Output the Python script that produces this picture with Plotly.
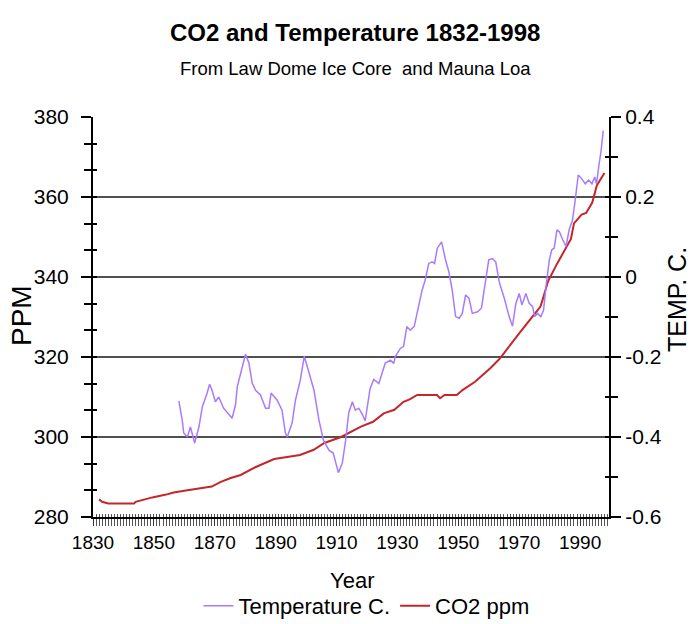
import plotly.graph_objects as go

# ---------------- data ----------------
co2_years = [1832, 1833, 1835, 1843.5, 1844, 1847, 1849.5, 1854, 1856.5, 1861,
             1865.5, 1869, 1872, 1875, 1878.5, 1883.5, 1889.5, 1898, 1902.5, 1906,
             1911.5, 1918, 1922, 1925.5, 1929, 1932, 1934, 1936.5, 1943, 1944,
             1945.5, 1949.5, 1951.5, 1954, 1955.5, 1958, 1960.5, 1963.5, 1966.5, 1970,
             1973.5, 1977, 1978, 1979.5, 1982.5, 1985.5, 1987, 1988, 1990.5, 1992,
             1994, 1995.5, 1998]
co2_ppm = [284.4, 283.8, 283.4, 283.4, 283.8, 284.4, 284.9, 285.6, 286.1, 286.7,
           287.2, 287.6, 288.8, 289.7, 290.5, 292.5, 294.5, 295.5, 296.8, 298.5,
           300.0, 302.6, 303.8, 305.9, 306.8, 308.8, 309.4, 310.5, 310.5, 309.7,
           310.5, 310.5, 311.8, 313.0, 313.8, 315.5, 317.2, 319.5, 322.6, 325.9,
           329.3, 332.6, 335.1, 339.0, 343.4, 347.6, 349.5, 353.4, 355.6, 356.0,
           358.6, 362.9, 366.0]

temp_years = [1858.2, 1859.3, 1859.8, 1861.0, 1862.0, 1862.6, 1863.4, 1864.8, 1865.9, 1867.5,
              1868.3, 1869.1, 1870.2, 1871.3, 1872.9, 1875.7, 1876.8, 1877.4, 1878.5, 1880.1,
              1881.2, 1882.3, 1883.4, 1885.0, 1886.7, 1887.8, 1888.5, 1890.5, 1892.1, 1893.2,
              1893.8, 1895.4, 1896.5, 1898.1, 1899.4, 1900.9, 1902.6, 1904.2, 1905.7, 1907.5,
              1908.9, 1910.6, 1911.9, 1913.0, 1914.0, 1915.2, 1916.2, 1917.3, 1918.6, 1919.4,
              1921.0, 1922.2, 1923.9, 1926.0, 1927.7, 1928.8, 1929.3, 1931.0, 1932.0, 1933.1,
              1934.2, 1935.5, 1936.9, 1938.1, 1939.1, 1940.3, 1941.4, 1942.2, 1943.1, 1944.5,
              1945.8, 1946.9, 1948.0, 1949.1, 1950.3, 1951.3, 1952.4, 1953.5, 1954.6, 1956.3,
              1957.6, 1959.0, 1960.0, 1961.2, 1962.3, 1963.4, 1965.1, 1966.7, 1967.8, 1968.9,
              1970.0, 1970.9, 1972.2, 1973.3, 1974.4, 1975.1, 1976.0, 1977.1, 1978.0, 1978.8,
              1979.9, 1980.7, 1981.5, 1982.4, 1983.2, 1984.3, 1985.4, 1986.4, 1987.5, 1988.3,
              1989.4, 1990.5, 1991.7, 1992.8, 1993.9, 1994.8, 1995.4, 1996.2, 1996.9, 1997.6]
temp_c = [-0.310, -0.357, -0.390, -0.400, -0.375, -0.395, -0.415, -0.375, -0.325, -0.290,
          -0.268, -0.283, -0.312, -0.300, -0.328, -0.353, -0.320, -0.274, -0.240, -0.193,
          -0.215, -0.265, -0.283, -0.295, -0.328, -0.328, -0.290, -0.308, -0.333, -0.390,
          -0.400, -0.365, -0.308, -0.258, -0.198, -0.240, -0.283, -0.357, -0.408, -0.433,
          -0.440, -0.489, -0.465, -0.408, -0.340, -0.312, -0.333, -0.328, -0.345, -0.360,
          -0.280, -0.256, -0.266, -0.215, -0.208, -0.216, -0.199, -0.178, -0.174, -0.124,
          -0.133, -0.124, -0.074, -0.033, -0.008, 0.034, 0.038, 0.034, 0.072, 0.088,
          0.043, 0.013, -0.033, -0.099, -0.103, -0.091, -0.045, -0.053, -0.091, -0.087,
          -0.078, -0.008, 0.043, 0.046, 0.038, -0.011, -0.053, -0.099, -0.123, -0.066,
          -0.041, -0.070, -0.041, -0.066, -0.074, -0.099, -0.091, -0.099, -0.083, -0.024,
          0.043, 0.068, 0.072, 0.118, 0.113, 0.093, 0.076, 0.118, 0.142, 0.186,
          0.255, 0.246, 0.233, 0.242, 0.233, 0.250, 0.233, 0.280, 0.315, 0.366]

year_ticks = [1830, 1850, 1870, 1890, 1910, 1930, 1950, 1970, 1990]
ppm_ticks = [280, 300, 320, 340, 360, 380]
temp_ticks = [-0.6, -0.4, -0.2, 0, 0.2, 0.4]
temp_tick_text = ["-0.6", "-0.4", "-0.2", "0", "0.2", "0.4"]

FONT = "Liberation Sans, Arial, sans-serif"

fig = go.Figure()
fig.add_trace(go.Scatter(x=temp_years, y=temp_c, name="Temperature C.", mode="lines",
                         line=dict(color="#a77bff", width=1.5), yaxis="y2"))
fig.add_trace(go.Scatter(x=co2_years, y=co2_ppm, name="CO2 ppm", mode="lines",
                         line=dict(color="#c3262b", width=2)))
# helper (empty) traces so that the inside-tick overlay axes are drawn
fig.add_trace(go.Scatter(x=[None], y=[None], yaxis="y3", showlegend=False, hoverinfo="skip"))
fig.add_trace(go.Scatter(x=[None], y=[None], yaxis="y4", showlegend=False, hoverinfo="skip"))
fig.add_trace(go.Scatter(x=[None], y=[None], xaxis="x2", showlegend=False, hoverinfo="skip"))

XR = [1830, 1999.5]
fig.update_layout(
    width=694, height=624,
    margin=dict(l=93, r=85, t=117, b=107),
    paper_bgcolor="white", plot_bgcolor="white",
    showlegend=True,
    legend=dict(orientation="h", x=0.53, xanchor="center", xref="paper",
                y=1 - 606 / 624, yref="container", yanchor="middle",
                font=dict(family=FONT, size=22, color="black"),
                bgcolor="rgba(0,0,0,0)", itemwidth=30),
    xaxis=dict(range=XR, tickvals=year_ticks, ticks="outside", ticklen=7, tickwidth=1,
               tickcolor="#333", showline=True, linecolor="black", linewidth=2,
               showgrid=False, zeroline=False,
               minor=dict(dtick=1, tick0=1830, ticks="outside", ticklen=7, tickwidth=1,
                          tickcolor="#555"),
               tickfont=dict(family=FONT, size=19, color="black")),
    xaxis2=dict(range=XR, overlaying="x", anchor="y", side="bottom", ticks="inside",
                dtick=1, tick0=1830, ticklen=3, tickwidth=1, tickcolor="#555",
                showticklabels=False, showgrid=False, zeroline=False, showline=False),
    yaxis=dict(range=[280, 380], tickvals=ppm_ticks, ticks="outside", ticklen=10,
               tickwidth=2, tickcolor="black", showline=True, linecolor="black",
               linewidth=2, showgrid=True, gridcolor="#505050", gridwidth=2,
               zeroline=False, ticklabelstandoff=8,
               minor=dict(dtick=20 / 3, tick0=280, ticks="outside", ticklen=7,
                          tickwidth=2, tickcolor="black"),
               tickfont=dict(family=FONT, size=21, color="black")),
    yaxis2=dict(range=[-0.6, 0.4], overlaying="y", side="right", anchor="x",
                tickvals=temp_ticks, ticktext=temp_tick_text, ticks="outside",
                ticklen=10, tickwidth=2, tickcolor="black", showline=True,
                linecolor="black", linewidth=2, showgrid=False, zeroline=False,
                minor=dict(dtick=0.1, tick0=-0.6, ticks="outside", ticklen=7,
                           tickwidth=2, tickcolor="black"),
                tickfont=dict(family=FONT, size=21, color="black")),
    yaxis3=dict(range=[280, 380], overlaying="y", side="left", anchor="x",
                ticks="inside", dtick=20 / 3, tick0=280, ticklen=4, tickwidth=2,
                tickcolor="black", showticklabels=False, showgrid=False,
                zeroline=False, showline=False),
    yaxis4=dict(range=[-0.6, 0.4], overlaying="y", side="right", anchor="x",
                ticks="inside", dtick=0.1, tick0=-0.6, ticklen=4, tickwidth=2,
                tickcolor="black", showticklabels=False, showgrid=False,
                zeroline=False, showline=False),
    annotations=[
        dict(text="CO2 and Temperature 1832-1998", x=0.508, y=1.2125, xref="paper",
             yref="paper", showarrow=False, xanchor="center", yanchor="middle",
             font=dict(family=FONT, size=24, color="black", weight="bold")),
        dict(text="From Law Dome Ice Core  and Mauna Loa", x=0.509, y=1.12,
             xref="paper", yref="paper", showarrow=False, xanchor="center",
             yanchor="middle", font=dict(family=FONT, size=18.5, color="black")),
        dict(text="PPM", x=-0.1395, y=0.5025, xref="paper", yref="paper",
             showarrow=False, textangle=-90, xanchor="center", yanchor="middle",
             font=dict(family=FONT, size=28, color="black")),
        dict(text="TEMP. C.", x=(677 - 93) / 516, y=0.5425, xref="paper", yref="paper",
             showarrow=False, textangle=-90, xanchor="center", yanchor="middle",
             font=dict(family=FONT, size=25, color="black")),
        dict(text="Year", x=0.502, y=-0.1575, xref="paper", yref="paper",
             showarrow=False, xanchor="center", yanchor="middle",
             font=dict(family=FONT, size=22, color="black")),
    ],
)

fig.write_html("out.html",
               config={"displayModeBar": False},
               post_script="document.body.style.margin='0';document.body.style.overflow='hidden';")
